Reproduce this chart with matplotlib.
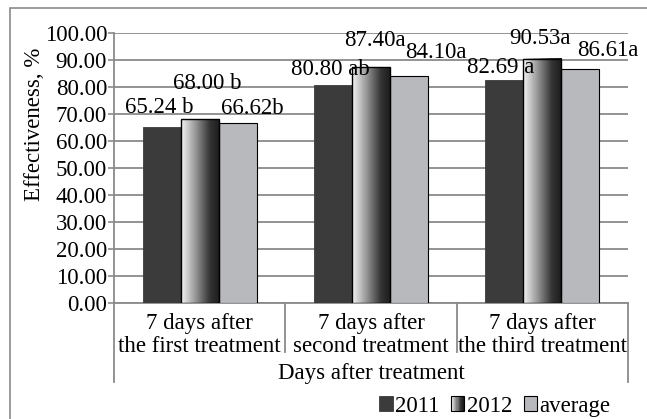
import numpy as np
import matplotlib
matplotlib.use('Agg')
from matplotlib import pyplot as plt
from matplotlib.colors import LinearSegmentedColormap
from matplotlib.legend_handler import HandlerBase
from matplotlib.patches import Rectangle
import matplotlib.transforms as mtransforms

plt.rcParams['font.family'] = ['Liberation Serif', 'DejaVu Serif']
plt.rcParams['font.size'] = 16.5

categories = ['7 days after\nthe first treatment',
              '7 days after\nsecond treatment',
              '7 days after\nthe third treatment']
series = ['2011', '2012', 'average']
y2011 = [65.24, 80.80, 82.69]
y2012 = [68.00, 87.40, 90.53]
yavg = [66.62, 84.10, 86.61]
lab2011 = ['65.24 b', '80.80 ab', '82.69 a']
lab2012 = ['68.00 b', '87.40a', '90.53a']
labavg = ['66.62b', '84.10a', '86.61a']

grey = '#8a8a8a'
c2011 = '#3b3b3b'
cavg = '#b8b9bd'
grad_cmap = LinearSegmentedColormap.from_list(
    'g2012', [(0, '#f4f4f4'), (0.35, '#9c9c9c'), (0.75, '#333333'), (1, '#1c1c1c')])


class HandlerGradient(HandlerBase):
    def create_artists(self, legend, orig_handle, xdescent, ydescent,
                       width, height, fontsize, trans):
        n = 12
        out = []
        for k in range(n):
            out.append(Rectangle((-xdescent + width * k / n, -ydescent), width / n, height,
                                 facecolor=grad_cmap(k / (n - 1)), edgecolor='none',
                                 transform=trans))
        out.append(Rectangle((-xdescent, -ydescent), width, height, facecolor='none',
                             edgecolor='black', lw=0.8, transform=trans))
        return out


fig = plt.figure(figsize=(6.47, 4.19), dpi=100)
W, H = 647, 419
ax = fig.add_axes([114 / W, (H - 303) / H, (628 - 114) / W, (303 - 33) / H])

x = np.arange(len(categories))
w = 1 / 4.5

b1 = ax.bar(x - w, y2011, w, color=c2011, edgecolor=c2011, lw=0.6, zorder=3)
for xi, v in zip(x, y2012):
    ax.imshow(np.linspace(0, 1, 64).reshape(1, -1), cmap=grad_cmap, aspect='auto',
              extent=(xi - w / 2, xi + w / 2, 0, v), zorder=3, interpolation='bilinear')
b2 = ax.bar(x, y2012, w, facecolor='none', edgecolor='black', lw=1.0, zorder=4)
b3 = ax.bar(x + w, yavg, w, color=cavg, edgecolor='black', lw=0.8, zorder=3)

ax.set_xlim(-0.5, 2.5)
ax.set_ylim(0, 100)
ax.set_yticks(np.arange(0, 101, 10))
ax.set_yticklabels(['%.2f' % t for t in np.arange(0, 101, 10)])
ax.yaxis.grid(True, color=grey, lw=1.3, zorder=0)
ax.set_axisbelow(True)
for s in ['top', 'right']:
    ax.spines[s].set_visible(False)
for s in ['left', 'bottom']:
    ax.spines[s].set_color(grey)
    ax.spines[s].set_linewidth(1.3)
ax.tick_params(axis='y', length=4, width=1.2, color=grey, pad=1)
ax.set_xticks(x)
ax.set_xticklabels(categories, linespacing=1.12)
ax.tick_params(axis='x', length=0, pad=7)

# multi-level category separators
tr = mtransforms.blended_transform_factory(ax.transData, ax.transAxes)
for xb, depth in zip([-0.5, 0.5, 1.5, 2.5], [0.293, 0.181, 0.181, 0.293]):
    ax.plot([xb, xb], [0, -depth], transform=tr, color=grey, lw=1.3, clip_on=False)
ax.text(0.5, -(373 - 303) / 270, 'Days after treatment', transform=ax.transAxes,
        ha='center', va='center')

# data labels (offsets in pixels from bar top centre)
offs2011 = [(-2, 19), (-2.5, 15), (-3.5, 12)]
offs2012 = [(7.5, 36), (3.5, 27), (-2.5, 20)]
offsavg = [(15, 15), (26.5, 23), (27, 19)]
for bars, labs, offs in [(b1, lab2011, offs2011), (b2, lab2012, offs2012), (b3, labavg, offsavg)]:
    for r, t, o in zip(bars, labs, offs):
        ax.annotate(t, (r.get_x() + r.get_width() / 2, r.get_height()), xytext=o,
                    textcoords='offset pixels', ha='center', va='center', zorder=6)

fig.text(35 / W, 1 - 124 / H, 'Effectiveness, %', rotation=90, ha='center', va='center')

leg = fig.legend([b1[0], 'grad', b3[0]], series,
                 handler_map={str: HandlerGradient()},
                 loc='center right', bbox_to_anchor=(622 / W, 1 - 406 / H),
                 ncol=3, frameon=False, handlelength=0.6, handleheight=0.6,
                 handletextpad=0.1, columnspacing=0.5, borderpad=0)

fig.patches.append(Rectangle((10 / W, -0.1), 1.2, 1 - 8 / H + 0.1, transform=fig.transFigure,
                             facecolor='none', edgecolor=grey, lw=1.2))

fig.savefig('out.png', dpi=100)
